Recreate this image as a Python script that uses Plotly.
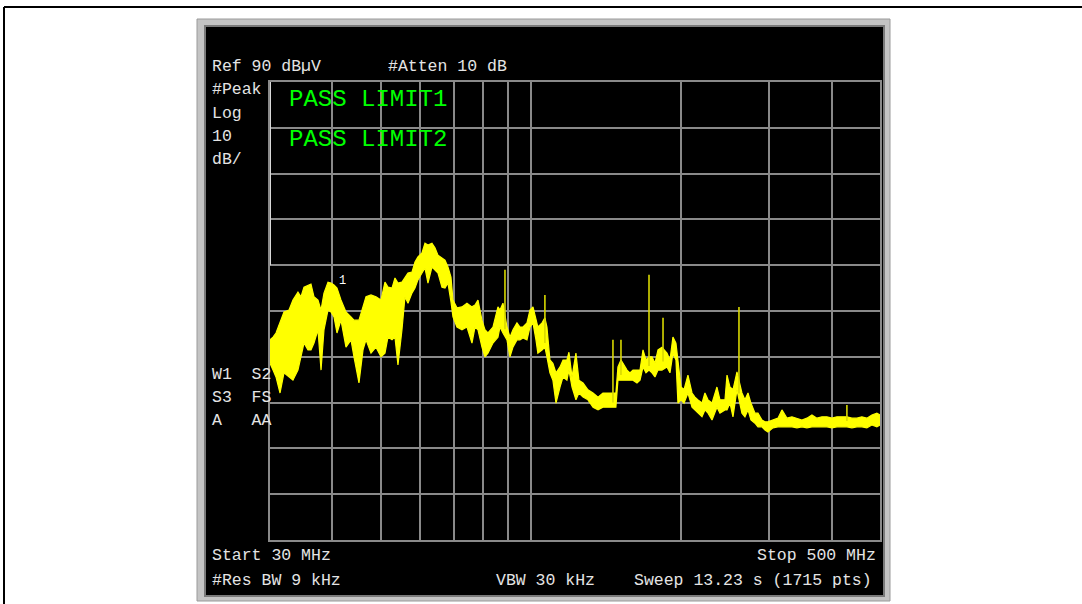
import math
import plotly.graph_objects as go

# ---------------- data ----------------
freq_mhz = [30.0, 30.42, 30.84, 31.42, 32.0, 32.75, 33.35, 34.13, 34.61, 35.09, 35.74, 36.24, 36.75,
            37.43, 37.96, 38.48, 39.2, 39.75, 40.3, 40.86, 41.62, 42.59, 43.59, 44.19, 45.22, 46.07,
            46.71, 47.8, 48.91, 50.05, 50.98, 51.69, 52.66, 53.39, 54.13, 55.14, 55.91, 56.69, 57.74,
            58.55, 59.36, 60.47, 61.31, 62.16, 63.32, 64.2, 65.1, 66.31, 67.24, 68.17, 69.12, 69.76,
            71.06, 72.72, 74.41, 76.15, 77.21, 78.29, 79.74, 80.85, 81.98, 83.89, 85.85, 86.64, 87.85,
            89.49, 90.74, 92.0, 93.71, 95.02, 96.35, 98.14, 99.51, 100.9, 102.3, 103.2, 105.2, 106.6,
            107.6, 109.1, 110.6, 112.2, 114.3, 115.9, 118.0, 119.1, 120.8, 123.0, 124.7, 127.1, 130.0,
            133.1, 136.2, 139.3, 142.6, 145.2, 147.9, 149.3, 151.4, 152.8, 155.7, 157.8, 160.0, 163.0,
            165.3, 167.6, 169.9, 172.3, 174.7, 177.1, 179.6, 182.9, 187.2, 189.8, 192.4, 195.1, 196.9,
            199.7, 202.5, 206.2, 210.1, 213.0, 216.0, 220.0, 223.0, 226.2, 230.4, 235.7, 239.0, 244.6,
            246.9, 250.3, 253.8, 258.5, 264.5, 268.2, 272.0, 275.7, 280.9, 284.8, 290.1, 294.1, 298.2,
            305.2, 312.3, 318.1, 325.5, 333.1, 340.9, 348.8, 356.9, 365.3, 373.8, 382.5, 391.4, 400.5,
            409.9, 419.4, 429.2, 439.2, 449.5, 459.9, 470.6, 481.6, 492.8, 500.0]

upper_dbuv = [33.7, 34.3, 35.2, 37.4, 39.8, 40.2, 42.4, 44.1, 43.1, 45.2, 45.7, 45.9, 43.1,
              42.4, 40.2, 43.9, 46.3, 46.1, 45.7, 45.0, 42.4, 39.8, 38.7, 38.0, 38.0, 40.9,
              43.1, 43.5, 43.1, 42.4, 46.3, 45.2, 45.0, 47.2, 46.1, 46.3, 47.2, 48.3, 48.5,
              50.7, 51.8, 52.7, 54.8, 54.4, 54.8, 53.8, 52.2, 51.6, 51.1, 49.6, 47.4, 42.4,
              40.7, 40.9, 41.7, 40.9, 41.3, 42.4, 38.0, 35.9, 35.2, 36.5, 40.9, 40.2, 41.7,
              36.5, 34.3, 35.9, 37.4, 36.5, 36.5, 37.4, 40.2, 40.9, 38.0, 36.5, 37.4, 38.5,
              36.5, 29.3, 28.6, 26.5, 27.8, 29.3, 29.3, 31.0, 25.6, 30.8, 24.9, 24.3, 22.8,
              22.1, 21.2, 22.1, 22.1, 22.1, 22.1, 27.8, 29.3, 28.6, 27.1, 26.5, 27.1, 27.1,
              27.1, 31.5, 29.3, 30.0, 30.0, 28.6, 31.5, 32.1, 30.8, 29.3, 34.3, 33.0, 29.3,
              23.4, 22.8, 26.0, 22.1, 21.2, 20.6, 19.9, 22.1, 20.6, 19.9, 23.4, 20.6, 20.6,
              26.0, 23.4, 22.8, 26.7, 22.1, 20.6, 22.1, 19.9, 17.7, 17.7, 16.2, 15.8, 15.8,
              16.2, 16.6, 18.4, 16.6, 16.9, 16.6, 16.2, 16.6, 17.3, 16.6, 16.9, 16.9, 16.6,
              16.9, 16.9, 16.9, 16.6, 16.6, 16.9, 16.6, 17.3, 17.7, 17.3]

lower_dbuv = [28.6, 27.1, 25.6, 22.1, 26.5, 25.6, 24.9, 27.1, 30.0, 33.0, 31.5, 31.5, 33.0,
              35.9, 27.1, 35.9, 40.2, 39.8, 38.7, 35.2, 38.0, 32.1, 33.7, 30.0, 24.3, 31.5,
              33.7, 30.8, 32.1, 30.0, 30.8, 34.3, 33.7, 34.3, 28.2, 35.9, 43.1, 41.7, 43.9,
              45.0, 46.8, 48.3, 49.4, 46.1, 49.6, 49.0, 48.3, 45.2, 45.0, 46.1, 42.0, 38.7,
              36.5, 35.9, 36.5, 33.0, 36.5, 35.9, 32.1, 30.0, 30.8, 33.0, 34.3, 36.5, 35.2,
              33.7, 30.0, 32.1, 33.7, 33.7, 34.1, 33.7, 36.5, 37.4, 33.7, 30.8, 31.5, 32.1,
              30.0, 26.5, 24.9, 19.9, 23.4, 25.6, 24.9, 27.1, 23.4, 20.6, 22.1, 21.2, 20.6,
              19.0, 18.4, 19.0, 19.0, 19.0, 19.0, 24.9, 24.9, 24.9, 24.9, 24.9, 24.9, 24.3,
              24.9, 27.8, 26.5, 27.1, 26.5, 25.6, 27.1, 27.1, 27.8, 26.5, 30.8, 29.3, 19.9,
              20.6, 19.9, 22.1, 19.0, 18.4, 17.7, 16.9, 18.4, 17.7, 16.2, 19.0, 17.7, 18.4,
              18.4, 19.9, 16.9, 22.8, 17.7, 16.9, 18.4, 16.2, 15.5, 14.7, 14.7, 14.0, 13.6,
              14.5, 14.7, 14.7, 14.7, 14.7, 14.5, 14.7, 14.5, 14.7, 14.7, 14.7, 14.7, 14.5,
              14.7, 14.7, 14.7, 14.5, 14.7, 14.7, 14.5, 15.1, 14.7, 15.1]

spike_freq_mhz = [88.67, 106.6, 145.9, 151.4, 172.3, 183.8, 260.9, 429.2]
spike_base_dbuv = [36.0, 33.0, 20.0, 26.0, 28.0, 29.0, 22.0, 16.0]
spike_top_dbuv = [49.0, 43.5, 33.7, 33.7, 47.9, 38.5, 40.9, 19.5]

grid_freq_mhz = [40, 50, 60, 70, 80, 90, 100, 200, 300, 400]
ref_level_dbuv = 90
db_per_div = 10
start_mhz, stop_mhz = 30, 500

header_texts = ["Ref 90 dBµV", "#Atten 10 dB"]
side_texts = ["#Peak", "Log", "10", "dB/"]
status_texts = ["W1  S2", "S3  FS", "A   AA"]
limit_texts = ["PASS LIMIT1", "PASS LIMIT2"]
footer_texts = ["Start 30 MHz", "Stop 500 MHz", "#Res BW 9 kHz", "VBW 30 kHz", "Sweep 13.23 s (1715 pts)"]
marker_label = "1"
marker_freq_mhz, marker_dbuv = 40.86, 46.5

# ---------------- layout helpers ----------------
W, H = 1082, 604
def px(x):
    return x / W
def py(y):
    return 1 - y / H

fig = go.Figure()

# noisy trace band (upper envelope forward, lower envelope back)
fig.add_trace(go.Scatter(
    x=freq_mhz + freq_mhz[::-1],
    y=upper_dbuv + lower_dbuv[::-1],
    mode="lines", fill="toself", fillcolor="#ffff00",
    line=dict(color="#ffff00", width=1.2), hoverinfo="skip", showlegend=False))

# narrow spurs
sx, sy = [], []
for f, b, t in zip(spike_freq_mhz, spike_base_dbuv, spike_top_dbuv):
    sx += [f, f, None]
    sy += [b, t, None]
fig.add_trace(go.Scatter(x=sx, y=sy, mode="lines",
                         line=dict(color="#d8d800", width=1.6),
                         hoverinfo="skip", showlegend=False))

fig.update_layout(
    width=W, height=H, margin=dict(l=0, r=0, t=0, b=0),
    paper_bgcolor="white", plot_bgcolor="black", showlegend=False,
    xaxis=dict(type="log", range=[math.log10(start_mhz), math.log10(stop_mhz)],
               domain=[px(270), px(880)], tickvals=grid_freq_mhz, showticklabels=False,
               ticks="", showgrid=True, gridcolor="#8a8a8a", gridwidth=2,
               showline=True, linecolor="#8a8a8a", linewidth=2, mirror=True, zeroline=False),
    yaxis=dict(range=[ref_level_dbuv - 10 * db_per_div, ref_level_dbuv],
               domain=[py(540), py(82)], dtick=db_per_div, tick0=0, showticklabels=False,
               ticks="", showgrid=True, gridcolor="#8a8a8a", gridwidth=2,
               showline=True, linecolor="#8a8a8a", linewidth=2, mirror=True, zeroline=False),
)

shapes = []
# outer black box of the page
shapes.append(dict(type="line", xref="paper", yref="paper", x0=px(4), x1=px(1082), y0=py(7), y1=py(7),
                   line=dict(color="black", width=2), layer="below"))
shapes.append(dict(type="line", xref="paper", yref="paper", x0=px(4), x1=px(4), y0=py(7), y1=py(604),
                   line=dict(color="black", width=2), layer="below"))
# instrument bezel
shapes.append(dict(type="rect", xref="paper", yref="paper", x0=px(197), x1=px(890), y0=py(19), y1=py(601),
                   fillcolor="#c4c4c4", line=dict(color="#9a9a9a", width=1), layer="below"))
shapes.append(dict(type="rect", xref="paper", yref="paper", x0=px(204), x1=px(885), y0=py(25), y1=py(597),
                   fillcolor="#7a7a7a", line=dict(width=0), layer="below"))
shapes.append(dict(type="rect", xref="paper", yref="paper", x0=px(206), x1=px(883), y0=py(27), y1=py(595),
                   fillcolor="black", line=dict(width=0), layer="below"))
# bright display-line segment on left border
shapes.append(dict(type="line", xref="x", yref="y", x0=start_mhz, x1=start_mhz, y0=50, y1=90,
                   line=dict(color="#d8d8d8", width=2), layer="above"))
fig.update_layout(shapes=shapes)

FONT = "Liberation Mono, DejaVu Sans Mono, monospace"
TXT = "#e4e4e4"
ann = []
def add_text(t, x, y, anchor="left", size=16, color=TXT):
    ann.append(dict(text=t, x=px(x), y=py(y), xref="paper", yref="paper", xanchor=anchor,
                    yanchor="middle", showarrow=False, font=dict(family=FONT, size=size, color=color)))

add_text(header_texts[0], 210, 67, size=16.5)
add_text(header_texts[1], 386, 67, size=16.5)
for t, y in zip(side_texts, [90, 113, 136, 159]):
    add_text(t, 210, y, size=16.5)
for t, y in zip(status_texts, [374, 397, 420]):
    add_text(t, 210, y, size=16.5)
for t, y in zip(limit_texts, [99, 139]):
    add_text(t, 287, y, size=24, color="#00ff00")
add_text(footer_texts[0], 210, 555, size=16.5)
add_text(footer_texts[1], 878, 555, anchor="right", size=16.5)
add_text(footer_texts[2], 210, 580, size=16.5)
add_text(footer_texts[3], 494, 580, size=16.5)
add_text(footer_texts[4], 874, 580, anchor="right", size=16.5)

ann.append(dict(text=marker_label, x=math.log10(marker_freq_mhz), y=marker_dbuv, xref="x", yref="y",
                xanchor="left", yanchor="middle", showarrow=False,
                font=dict(family=FONT, size=12, color="white")))
fig.update_layout(annotations=ann)

fig.write_html("out.html", config={"displayModeBar": False},
               post_script="document.body.style.margin='0';document.body.style.overflow='hidden';")
